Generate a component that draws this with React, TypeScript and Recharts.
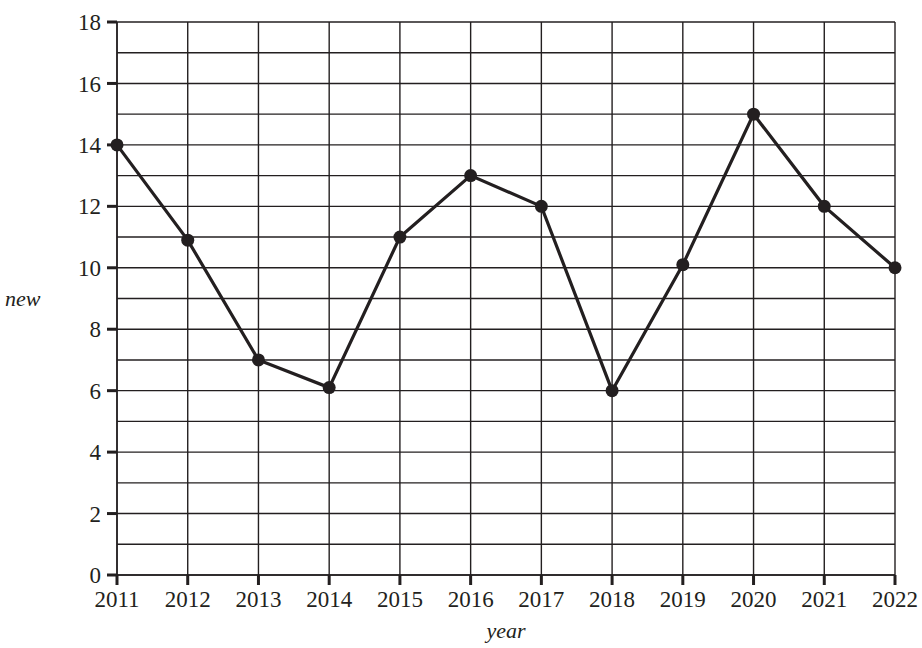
import { LineChart, Line, XAxis, YAxis, CartesianGrid, Label } from "recharts";

const years = [2011, 2012, 2013, 2014, 2015, 2016, 2017, 2018, 2019, 2020, 2021, 2022];
const newValues = [14, 10.9, 7, 6.1, 11, 13, 12, 6, 10.1, 15, 12, 10];
const yTicks = [0, 2, 4, 6, 8, 10, 12, 14, 16, 18];
const gridValues = [0, 1, 2, 3, 4, 5, 6, 7, 8, 9, 10, 11, 12, 13, 14, 15, 16, 17, 18];

const ink = "#231f20";
const font = "Liberation Serif";

export default function App() {
  const data = years.map((y, i) => ({ year: y, value: newValues[i] }));

  return (
    <div style={{ position: "absolute", left: 0, top: 0, background: "#fff", fontFamily: font }}>
      <LineChart
        width={922}
        height={648}
        data={data}
        margin={{ top: 22, right: 27, bottom: 0, left: 0 }}
        style={{ fontFamily: font }}
      >
        <CartesianGrid
          stroke={ink}
          strokeWidth={1.4}
          horizontalValues={gridValues}
          verticalValues={years}
        />
        <XAxis
          dataKey="year"
          type="number"
          domain={[2011, 2022]}
          ticks={years}
          interval={0}
          height={73}
          axisLine={{ stroke: ink, strokeWidth: 1.5 }}
          tickLine={{ stroke: ink, strokeWidth: 3 }}
          tickSize={10}
          tickMargin={6}
          tick={{ fill: ink, fontSize: 23, fontFamily: font }}
        >
          <Label
            value="year"
            position="insideBottom"
            offset={10}
            fill={ink}
            fontSize={22}
            fontStyle="italic"
            fontFamily={font}
          />
        </XAxis>
        <YAxis
          type="number"
          domain={[0, 18]}
          ticks={yTicks}
          interval={0}
          width={117}
          axisLine={{ stroke: ink, strokeWidth: 1.5 }}
          tickLine={{ stroke: ink, strokeWidth: 3 }}
          tickSize={10}
          tickMargin={6}
          tick={{ fill: ink, fontSize: 23, fontFamily: font }}
        >
          <Label
            value="new"
            position="insideLeft"
            offset={5}
            fill={ink}
            fontSize={22}
            fontStyle="italic"
            fontFamily={font}
          />
        </YAxis>
        <Line
          type="linear"
          dataKey="value"
          stroke={ink}
          strokeWidth={3.2}
          dot={{ r: 6.5, fill: ink, stroke: ink, strokeWidth: 0 }}
          isAnimationActive={false}
        />
      </LineChart>
    </div>
  );
}
